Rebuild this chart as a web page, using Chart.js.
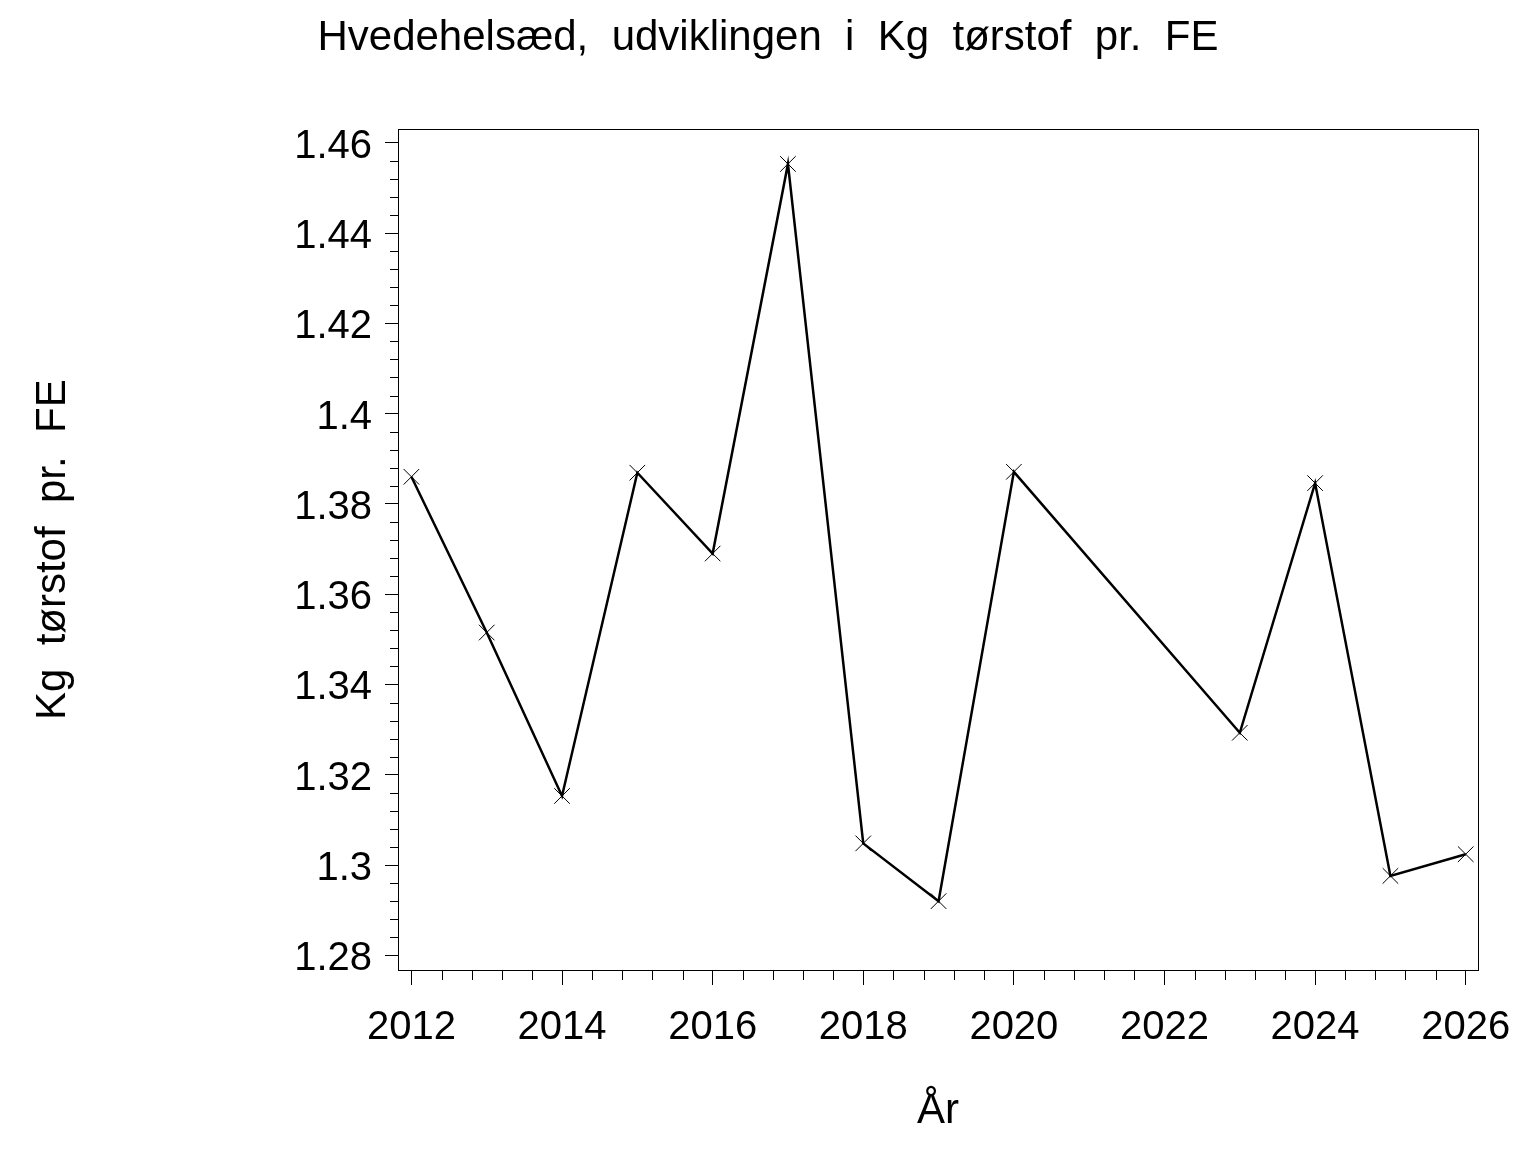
<!DOCTYPE html>
<html>
<head>
<meta charset="utf-8">
<title>Hvedehelsæd, udviklingen i Kg tørstof pr. FE</title>
<script src="https://cdn.jsdelivr.net/npm/chart.js@4.4.1/dist/chart.umd.min.js"></script>
<style>
  html, body { margin: 0; padding: 0; background: #fff; }
  #wrap { width: 1536px; height: 1152px; }
</style>
</head>
<body>
<div id="wrap"><canvas id="grafik"></canvas></div>
<script>
// Data (2021 og 2022 mangler)
const aar = [2012, 2013, 2014, 2015, 2016, 2017, 2018, 2019, 2020, 2023, 2024, 2025, 2026];
const kgTorstof = [1.3860, 1.3515, 1.3153, 1.3869, 1.3690, 1.4553, 1.3048, 1.2920, 1.3871, 1.3293, 1.3846, 1.2976, 1.3024];

const titel = 'Hvedehelsæd,  udviklingen  i  Kg  tørstof  pr.  FE';
const xTitel = 'År';
const yTitel = 'Kg  tørstof  pr.  FE';

const skrift = 'Arial, "Liberation Sans", Helvetica, sans-serif';

// små streger mellem hovedmærkerne + ramme rundt om plotområdet
const rammePlugin = {
    id: 'ramme',
    afterDraw(chart) {
        const ctx = chart.ctx;
        const a = chart.chartArea;
        const xs = chart.scales.x;
        const ys = chart.scales.y;
        ctx.save();
        ctx.strokeStyle = '#000';
        ctx.lineWidth = 1;
        ctx.strokeRect(Math.round(a.left) + 0.5, Math.round(a.top) + 0.5,
            Math.round(a.right - a.left), Math.round(a.bottom - a.top));

        ctx.beginPath();
        // x: hvert 0.4 år
        for (let i = 0; i <= 35; i++) {
            if (i % 5 === 0) continue;
            const px = Math.round(xs.getPixelForValue(2012 + i * 0.4)) + 0.5;
            ctx.moveTo(px, a.bottom);
            ctx.lineTo(px, a.bottom + 10);
        }
        // y: hver 0.004
        for (let i = 0; i <= 45; i++) {
            if (i % 5 === 0) continue;
            const py = Math.round(ys.getPixelForValue(1.28 + i * 0.004)) + 0.5;
            ctx.moveTo(a.left, py);
            ctx.lineTo(a.left - 8, py);
        }
        ctx.stroke();
        ctx.restore();
    }
};

const punkter = aar.map((a, i) => ({ x: a, y: kgTorstof[i] }));

new Chart(document.getElementById('grafik'), {
    type: 'line',
    data: {
        datasets: [{
            label: yTitel,
            data: punkter,
            borderColor: '#000',
            borderWidth: 2.5,
            pointStyle: 'crossRot',
            pointRadius: 11,
            pointBorderWidth: 1,
            pointBorderColor: '#000',
            pointBackgroundColor: '#000',
            tension: 0,
            fill: false
        }]
    },
    options: {
        responsive: true,
        maintainAspectRatio: false,
        animation: false,
        devicePixelRatio: 1,
        layout: { padding: 0 },
        plugins: {
            legend: { display: false },
            tooltip: { enabled: false },
            title: {
                display: true,
                text: titel,
                color: '#000',
                font: { family: skrift, size: 42, weight: 'normal', lineHeight: 1.2 },
                padding: { top: 13, bottom: 66 }
            }
        },
        scales: {
            x: {
                type: 'linear',
                min: 2011.822,
                max: 2026.163,
                afterFit(scale) { scale.height = 182; },
                border: { display: false },
                grid: { drawOnChartArea: false, drawTicks: true, tickLength: 15, color: '#000', lineWidth: 1 },
                ticks: {
                    stepSize: 2,
                    includeBounds: false,
                    maxRotation: 0,
                    autoSkip: false,
                    padding: 19,
                    color: '#000',
                    font: { family: skrift, size: 40 },
                    callback: v => String(v)
                },
                title: {
                    display: true,
                    text: xTitel,
                    color: '#000',
                    font: { family: skrift, size: 42, lineHeight: 1.2 },
                    padding: { top: 0, bottom: 15 }
                }
            },
            y: {
                type: 'linear',
                min: 1.27675,
                max: 1.46295,
                afterFit(scale) { scale.width = 398; },
                border: { display: false },
                grid: { drawOnChartArea: false, drawTicks: true, tickLength: 13, color: '#000', lineWidth: 1 },
                ticks: {
                    stepSize: 0.02,
                    includeBounds: false,
                    padding: 13,
                    labelOffset: 4,
                    color: '#000',
                    font: { family: skrift, size: 40 },
                    callback: v => String(Number(v.toFixed(2)))
                },
                title: {
                    display: true,
                    text: yTitel,
                    color: '#000',
                    font: { family: skrift, size: 42, lineHeight: 1.2 },
                    padding: { top: 28, bottom: 0 }
                }
            },
            // tom akse til højre, holder plads til højre margen så titlen bliver centreret på siden
            hoejre: {
                type: 'linear',
                position: 'right',
                afterFit(scale) { scale.width = 58; },
                border: { display: false },
                grid: { display: false },
                ticks: { display: false }
            }
        }
    },
    plugins: [rammePlugin]
});
</script>
</body>
</html>
